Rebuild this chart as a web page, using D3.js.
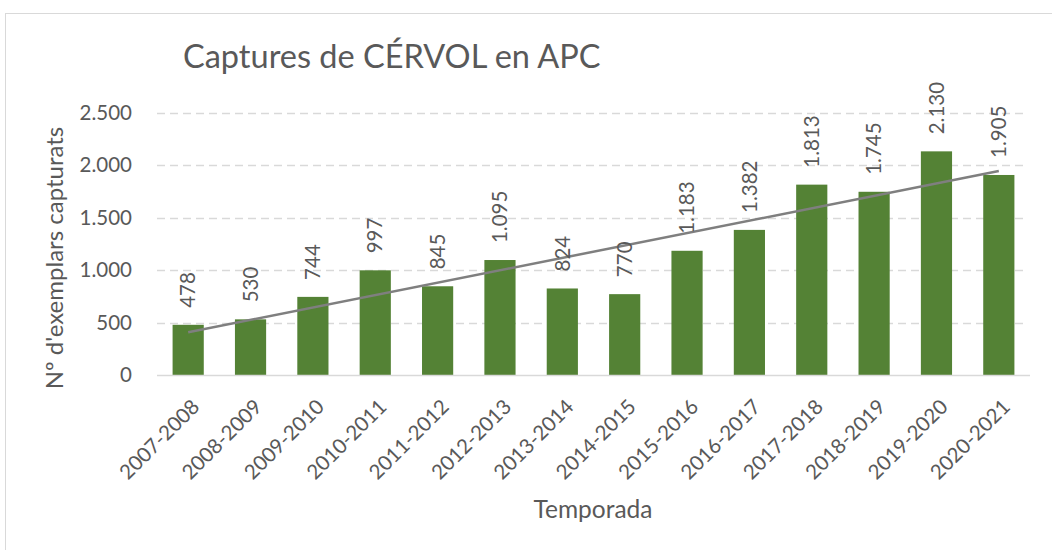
<!DOCTYPE html>
<html><head><meta charset="utf-8">
<script src="https://cdn.jsdelivr.net/npm/d3@7"></script>
<style>
html,body{margin:0;padding:0;background:#fff;}
svg{display:block;font-family:Lato,"Noto Sans",sans-serif;}
</style></head>
<body>
<svg id="chart" width="1052" height="550"></svg>
<script>
const categories = ["2007-2008","2008-2009","2009-2010","2010-2011","2011-2012","2012-2013","2013-2014","2014-2015","2015-2016","2016-2017","2017-2018","2018-2019","2019-2020","2020-2021"];
const captures = [478,530,744,997,845,1095,824,770,1183,1382,1813,1745,2130,1905];
const yTicks = [0,500,1000,1500,2000,2500];
const titleText = "Captures de CÉRVOL en APC";
const xTitle = "Temporada";
const yTitle = "Nº d'exemplars capturats";

(function(){
const fmt = v => d3.format(",")(v).replace(/,/g, ".");
const svg = d3.select("#chart");
const textColor = "#595959";

// outer border
svg.append("rect").attr("x",5.5).attr("y",13.5).attr("width",1100).attr("height",600)
  .attr("fill","none").attr("stroke","#d9d9d9").attr("stroke-width",1);

const pLeft = 157, pRight = 1030, pTop = 112.5, pBottom = 375;
const x = d3.scaleBand().domain(categories).range([pLeft,pRight]).paddingInner(0.5).paddingOuter(0.25);
const y = d3.scaleLinear().domain([0,2500]).range([pBottom,pTop]);

// gridlines
svg.append("g").selectAll("line").data(yTicks.filter(d=>d>0)).join("line")
  .attr("x1",pLeft).attr("x2",1026)
  .attr("y1",d=>Math.round(y(d))+0.5).attr("y2",d=>Math.round(y(d))+0.5)
  .attr("stroke","#d9d9d9").attr("stroke-width",1.5).attr("stroke-dasharray","8,5");

// y tick labels
svg.append("g").selectAll("text").data(yTicks).join("text")
  .attr("x",132).attr("y",d=>y(d)).attr("dy","0.35em")
  .attr("text-anchor","end").attr("font-size",20.5).attr("fill",textColor)
  .text(d=>fmt(d));

// bars
svg.append("g").selectAll("rect").data(captures).join("rect")
  .attr("x",(d,i)=>x(categories[i])).attr("width",x.bandwidth())
  .attr("y",d=>y(d)).attr("height",d=>pBottom-y(d))
  .attr("fill","#548235");

// x axis line
svg.append("line").attr("x1",pLeft).attr("x2",pRight).attr("y1",pBottom+0.5).attr("y2",pBottom+0.5)
  .attr("stroke","#d9d9d9").attr("stroke-width",1.5);

// linear trendline
const n = captures.length;
const xs = d3.range(1,n+1);
const mx = d3.mean(xs), my = d3.mean(captures);
const slope = d3.sum(xs.map((xi,i)=>(xi-mx)*(captures[i]-my))) / d3.sum(xs.map(xi=>(xi-mx)*(xi-mx)));
const intercept = my - slope*mx;
const cx = i => x(categories[i]) + x.bandwidth()/2;
svg.append("line")
  .attr("x1",cx(0)).attr("y1",y(intercept+slope*1))
  .attr("x2",cx(n-1)).attr("y2",y(intercept+slope*n))
  .attr("stroke","#7f7f7f").attr("stroke-width",2.5);

// data labels
svg.append("g").selectAll("text").data(captures).join("text")
  .attr("transform",(d,i)=>`translate(${cx(i)},${y(d)-17}) rotate(-90)`)
  .attr("dy","0.35em").attr("text-anchor","start")
  .attr("font-size",20.5).attr("fill",textColor)
  .text(d=>fmt(d));

// x tick labels
svg.append("g").selectAll("text").data(categories).join("text")
  .attr("transform",(d,i)=>`translate(${cx(i)+7.5},403) rotate(-45)`)
  .attr("dy","0.35em").attr("text-anchor","end")
  .attr("font-size",20.5).attr("fill",textColor)
  .text(d=>d);

// title
svg.append("text").attr("x",183).attr("y",68).attr("font-size",32.5).attr("fill",textColor).text(titleText);

// axis titles
svg.append("text").attr("x",593).attr("y",518).attr("text-anchor","middle")
  .attr("font-size",24.5).attr("fill",textColor).text(xTitle);
svg.append("text").attr("transform","translate(63,258) rotate(-90)").attr("text-anchor","middle")
  .attr("font-size",24).attr("fill",textColor).text(yTitle);
})();
</script>
</body></html>
